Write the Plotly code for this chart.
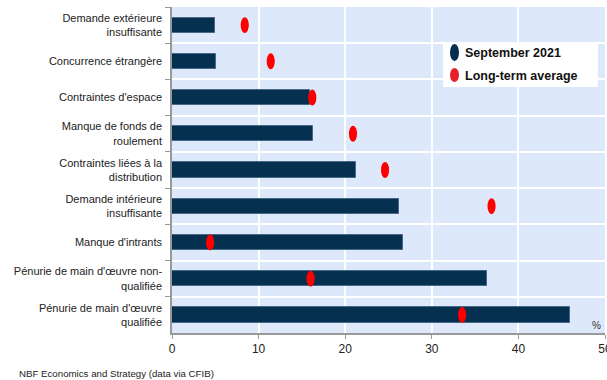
import plotly.graph_objects as go

# Obstacles to sales/production, share of firms (%)
categories = [
    "Demande extérieure<br>insuffisante",
    "Concurrence étrangère",
    "Contraintes d'espace",
    "Manque de fonds de<br>roulement",
    "Contraintes liées à la<br>distribution",
    "Demande intérieure<br>insuffisante",
    "Manque d'intrants",
    "Pénurie de main d'œuvre non-<br>qualifiée",
    "Pénurie de main d'œuvre<br>qualifiée",
]
september_2021 = [5.0, 5.05, 15.9, 16.3, 21.3, 26.2, 26.7, 36.4, 46.0]
long_term_avg = [8.4, 11.4, 16.2, 20.9, 24.6, 36.9, 4.4, 16.0, 33.5]
x_ticks = [0, 10, 20, 30, 40, 50]

NAVY = "#06304f"
RED = "#ff0000"
BG = "#dde9fa"

fig = go.Figure()
fig.add_trace(go.Bar(
    x=september_2021, y=categories, orientation="h", width=0.42,
    marker=dict(color=NAVY, line=dict(color="#46698a", width=1)),
    showlegend=False, hoverinfo="x+y",
))

# Long-term averages as ellipses in data coordinates
shapes = []
for i, v in enumerate(long_term_avg):
    shapes.append(dict(
        type="circle", xref="x", yref="y", layer="above",
        x0=v - 0.47, x1=v + 0.47, y0=i - 0.22, y1=i + 0.22,
        fillcolor=RED, line=dict(width=0),
    ))

# Legend box
W, H, L, R, T, B = 607, 380, 172, 2, 7, 47
pw, ph = W - L - R, H - T - B
def px(xp):
    return (xp - L) / pw
def py(yp):
    return (H - B - yp) / ph

shapes.append(dict(type="rect", xref="paper", yref="paper", layer="above",
                   x0=px(443), x1=px(598), y0=py(87), y1=py(42),
                   fillcolor="white", line=dict(width=0)))
shapes.append(dict(type="circle", xref="paper", yref="paper", layer="above",
                   x0=px(450), x1=px(459), y0=py(61), y1=py(44),
                   fillcolor=NAVY, line=dict(width=0)))
shapes.append(dict(type="circle", xref="paper", yref="paper", layer="above",
                   x0=px(450), x1=px(459), y0=py(82), y1=py(68),
                   fillcolor="#e8202a", line=dict(width=0)))

annotations = [
    dict(text="<b>September 2021</b>", xref="paper", yref="paper",
         x=px(463), y=py(53), xanchor="left", yanchor="middle", showarrow=False,
         font=dict(size=12.5, color="#111", family="Liberation Sans, Arial")),
    dict(text="<b>Long-term average</b>", xref="paper", yref="paper",
         x=px(463), y=py(76), xanchor="left", yanchor="middle", showarrow=False,
         font=dict(size=12.5, color="#111", family="Liberation Sans, Arial")),
    dict(text="%", xref="paper", yref="paper", x=px(596), y=py(325),
         xanchor="center", yanchor="middle", showarrow=False,
         font=dict(size=10, color="#333", family="Liberation Sans, Arial")),
    dict(text="NBF Economics and Strategy (data via CFIB)", xref="paper", yref="paper",
         x=px(17), y=py(373), xanchor="left", yanchor="middle", showarrow=False,
         font=dict(size=9.7, color="#222", family="Liberation Sans, Arial")),
]

fig.update_layout(
    width=W, height=H,
    margin=dict(l=L, r=R, t=T, b=B, autoexpand=False),
    paper_bgcolor="white", plot_bgcolor=BG,
    font=dict(family="Liberation Sans, Arial", size=11, color="#222"),
    shapes=shapes, annotations=annotations, bargap=0,
    xaxis=dict(range=[0, 50], tickvals=x_ticks, showgrid=True, gridcolor="white",
               gridwidth=1.5, zeroline=False, showline=True, linecolor="#999",
               linewidth=1.5, ticks="outside", ticklen=4, tickcolor="#999",
               ticklabeloverflow="allow",
               tickfont=dict(size=12, color="#222"), automargin=False, fixedrange=True),
    yaxis=dict(type="category", autorange="reversed", tickson="boundaries",
               showgrid=True, gridcolor="white", gridwidth=1.5, showline=True,
               linecolor="#999", linewidth=1.5, ticks="outside", ticklen=5,
               tickcolor="#999", ticklabelstandoff=6,
               tickfont=dict(size=11, color="#222"), automargin=False),
)

fig.write_html("out.html")
